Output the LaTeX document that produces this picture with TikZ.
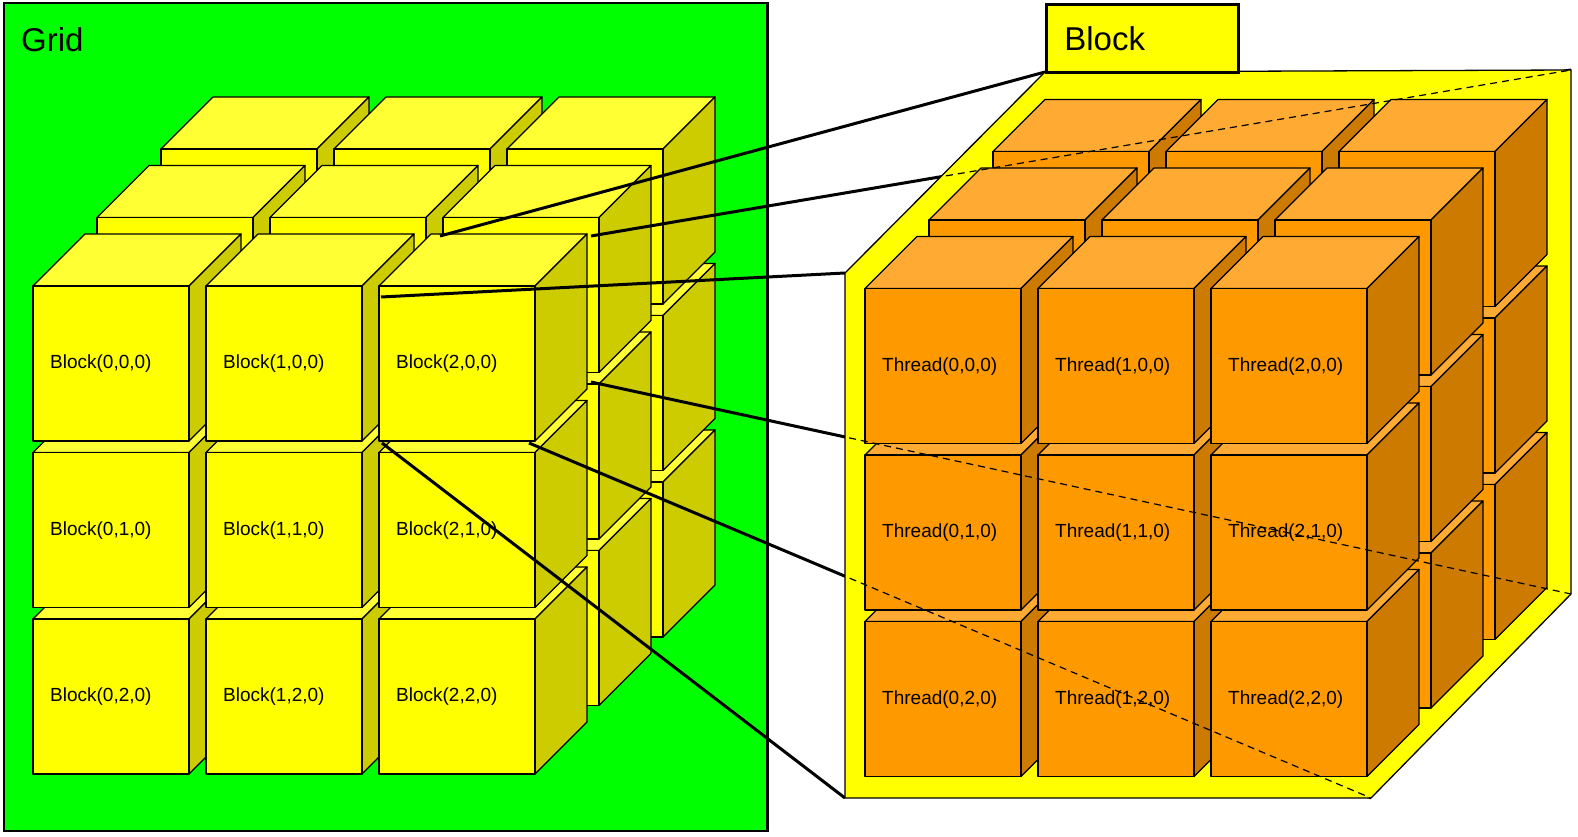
\documentclass[tikz,border=0pt]{standalone}
\usepackage{fontspec}
\setmainfont{Liberation Sans}
\usepackage{xcolor}
\usepackage{tikz}
\definecolor{gridGreen}{HTML}{00FF00}
\definecolor{blockFront}{HTML}{FFFF00}
\definecolor{blockTop}{HTML}{FFFF33}
\definecolor{blockSide}{HTML}{CCCC00}
\definecolor{threadFront}{HTML}{FF9900}
\definecolor{threadTop}{HTML}{FFAA33}
\definecolor{threadSide}{HTML}{CC7A00}
% one cube: front face top left corner at (#1,#2), colours #3Front/#3Top/#3Side
\newcommand{\drawCube}[3]{%
  \filldraw[cubeLine,fill=#3Top] (#1,#2) -- ++(52,-52) -- ++(156,0) -- ++(-52,52) -- cycle;
  \filldraw[cubeLine,fill=#3Side] (#1+156,#2) -- ++(52,-52) -- ++(0,155) -- ++(-52,52) -- cycle;
  \filldraw[cubeLine,fill=#3Front] (#1,#2) rectangle ++(156,155);
}
\tikzset{
  cubeLine/.style={line width=1.2pt,line join=round},
  cubeLabel/.style={anchor=west,inner sep=0pt,font=\fontsize{19}{22}\selectfont},
  titleText/.style={font=\fontsize{33}{38}\selectfont,inner sep=0pt},
  panel/.style={draw,line width=2.6pt},
  link/.style={line width=3pt},
  hiddenLine/.style={line width=1.2pt,dash pattern=on 7pt off 5pt}
}
\begin{document}
\begin{tikzpicture}[x=1pt,y=-1pt]
  \useasboundingbox (0,0) rectangle (1578,837);
  % the grid of blocks
  \filldraw[panel,fill=gridGreen] (4,3) rectangle (767.5,831);
  \node[titleText,anchor=base west] (gridTitle) at (21,52) {Grid};
  \foreach \z in {2,1,0}
    \foreach \r in {2,1,0}
      \foreach \c in {0,1,2} {
        \pgfmathsetmacro\X{33+173*\c+64*\z}
        \pgfmathsetmacro\Y{286+166.5*\r-68.5*\z}
        \drawCube{\X}{\Y}{block}
        \ifnum\z=0 \node[cubeLabel] (block\c\r) at (\X+17,\Y+78) {Block(\c,\r,0)};\fi
      }
  % corners of the small block and of the big one
  \coordinate (s1) at (440,236);
  \coordinate (s2) at (591,236);
  \coordinate (s3) at (381,297);
  \coordinate (s4) at (591,382);
  \coordinate (s5) at (529,443);
  \coordinate (s6) at (382,443);
  \coordinate (e1) at (1045,72);
  \coordinate (e2) at (1571,70);
  \coordinate (e3) at (845,273);
  \coordinate (e4) at (1571,594);
  \coordinate (e5) at (1371,798);
  \coordinate (e6) at (845,798);
  \foreach \i in {1,...,6}
    \draw[link] (s\i) -- (e\i);
  % the block of threads
  \filldraw[line width=1.3pt,fill=blockFront] (e1) -- (e2) -- (e4) -- (e5) -- (e6) -- (e3) -- cycle;
  \node[panel,fill=blockFront,titleText,anchor=north west,minimum height=68pt,
        text width=156pt,inner xsep=18pt,align=left] (blockTitle) at (1045,3) {Block};
  \foreach \z in {2,1,0}
    \foreach \r in {2,1,0}
      \foreach \c in {0,1,2} {
        \pgfmathsetmacro\X{865+173*\c+64*\z}
        \pgfmathsetmacro\Y{288.5+166.5*\r-68.5*\z}
        \drawCube{\X}{\Y}{thread}
        \ifnum\z=0 \node[cubeLabel] (thread\c\r) at (\X+17,\Y+78) {Thread(\c,\r,0)};\fi
      }
  \begin{scope}
    \clip (e1) -- (e2) -- (e4) -- (e5) -- (e6) -- (e3) -- cycle;
    \foreach \i in {2,4,5}
      \draw[hiddenLine] (s\i) -- (e\i);
  \end{scope}
\end{tikzpicture}
\end{document}
